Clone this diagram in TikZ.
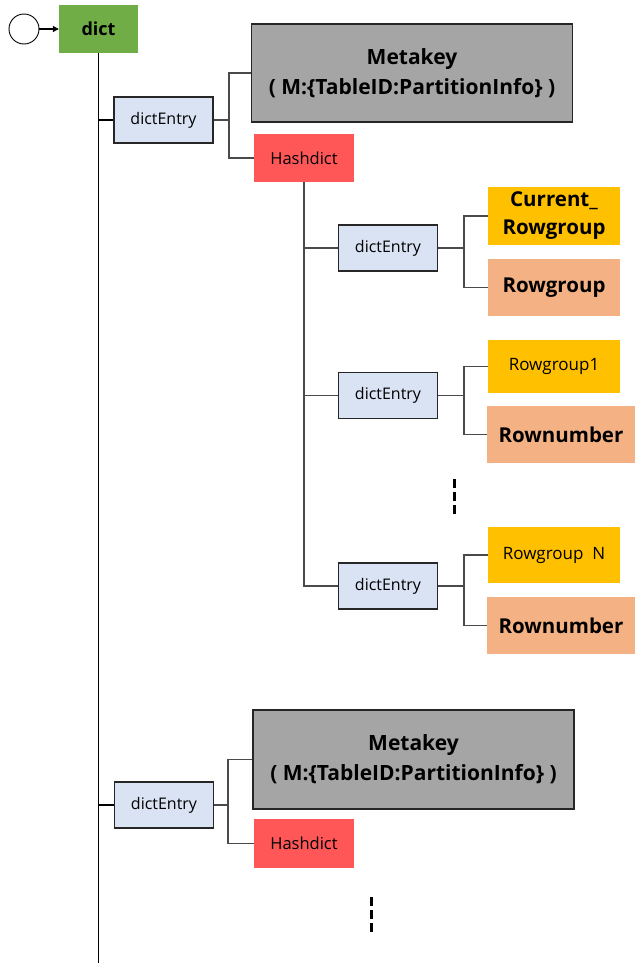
\documentclass[tikz,border=0pt]{standalone}
\usepackage{fontspec}
\setmainfont{Open Sans}
\usetikzlibrary{arrows.meta}
\definecolor{dictgreen}{HTML}{70AD47}
\definecolor{entryblue}{HTML}{DAE3F3}
\definecolor{keygray}{HTML}{A5A5A5}
\definecolor{hashred}{HTML}{FF5757}
\definecolor{gold}{HTML}{FFC000}
\definecolor{peach}{HTML}{F4B183}
\definecolor{linkgray}{HTML}{4A4A4A}
\tikzset{
  box/.style={inner sep=0pt, align=center, anchor=center, font=\fontsize{20.5}{28}\selectfont\bfseries},
  entrybox/.style={box, fill=entryblue, draw=black!85, line width=1.4pt,
    minimum width=99, minimum height=46, font=\fontsize{16}{18}\selectfont},
  keybox/.style={box, fill=keygray, draw=black!85, line width=1.4pt,
    minimum width=321, minimum height=98, font=\fontsize{21}{30}\selectfont\bfseries},
  hashbox/.style={box, fill=hashred, minimum width=100, minimum height=48,
    font=\fontsize{16.5}{19}\selectfont},
  goldbox/.style={box, fill=gold, minimum width=132},
  peachbox/.style={box, fill=peach},
  trunk/.style={draw=black, line width=1.6pt},
  link/.style={draw=linkgray, line width=1.7pt},
  gapmark/.style={draw=black, line width=3pt, dash pattern=on 9pt off 4pt},
}
\begin{document}
\begin{tikzpicture}[x=1pt,y=-1pt]
  \useasboundingbox[fill=white] (0,0) rectangle (635,963);

  % root
  \node[draw=black, line width=0.9pt, circle, minimum size=30, inner sep=0pt] (start) at (24,29) {};
  \node[box, fill=dictgreen, minimum width=79, minimum height=48, font=\fontsize{18}{20}\selectfont\bfseries] (dict) at (98.5,29) {dict};
  \draw[-{Triangle[length=6pt,width=6pt]}, line width=1.1pt] (start.east) -- (dict.west);
  \coordinate (trunkend) at (98.5,963);
  \draw[trunk] (dict.south) -- (trunkend);

  % first entry
  \node[entrybox] (de1) at (163.5,120) {dictEntry};
  \node[keybox] (mk1) at (412,73) {Metakey\\( M:\{TableID:PartitionInfo\} )};
  \node[hashbox] (hd1) at (304,158) {Hashdict};
  \draw[trunk] (de1.west) -- (de1.west -| dict.south);
  \draw[link] (de1.east) -- ++(15,0) |- (mk1.west);
  \draw[link] (de1.east) -- ++(15,0) |- (hd1.west);

  % entries of the hash dictionary
  \node[entrybox] (de2) at (388,248) {dictEntry};
  \node[entrybox] (de3) at (388,395.5) {dictEntry};
  \node[entrybox] (de4) at (388,586) {dictEntry};
  \draw[link] (hd1.south) |- (de4.west);
  \draw[link] (de2.west) -- (de2.west -| hd1.south);
  \draw[link] (de3.west) -- (de3.west -| hd1.south);

  \node[goldbox, minimum height=58] (cur) at (554,216) {\raisebox{-3pt}{Current\_}\\\raisebox{-3pt}{Rowgroup}};
  \node[peachbox, minimum width=132, minimum height=57] (rg) at (554,287.5) {Rowgroup};
  \draw[link] (de2.east) -- ++(26,0) |- (cur.west);
  \draw[link] (de2.east) -- ++(26,0) |- (rg.west);

  \node[goldbox, minimum height=53, font=\fontsize{17}{20}\selectfont] (rg1) at (554,366.5) {Rowgroup1};
  \node[peachbox, minimum width=148, minimum height=57] (rn1) at (561,434.5) {Rownumber};
  \draw[link] (de3.east) -- ++(26,0) |- (rg1.west);
  \draw[link] (de3.east) -- ++(26,0) |- (rn1.west);

  \coordinate (gapA) at (454,479);
  \coordinate (gapB) at (454,515);
  \draw[gapmark] (gapA) -- (gapB);

  \node[goldbox, minimum height=56, font=\fontsize{17}{20}\selectfont] (rgn) at (554,555) {Rowgroup\ \ N};
  \node[peachbox, minimum width=148, minimum height=57] (rn2) at (561,625.5) {Rownumber};
  \draw[link] (de4.east) -- ++(26,0) |- (rgn.west);
  \draw[link] (de4.east) -- ++(26,0) |- (rn2.west);

  % second entry
  \node[entrybox] (de5) at (164,805) {dictEntry};
  \node[keybox, minimum height=99] (mk2) at (413.5,759.5) {Metakey\\( M:\{TableID:PartitionInfo\} )};
  \node[hashbox, minimum height=49] (hd2) at (304,843.5) {Hashdict};
  \draw[trunk] (de5.west) -- (de5.west -| dict.south);
  \draw[link] (de5.east) -- ++(14,0) |- (mk2.west);
  \draw[link] (de5.east) -- ++(14,0) |- (hd2.west);

  \coordinate (gapC) at (371,897);
  \coordinate (gapD) at (371,935);
  \draw[gapmark] (gapC) -- (gapD);
\end{tikzpicture}
\end{document}
